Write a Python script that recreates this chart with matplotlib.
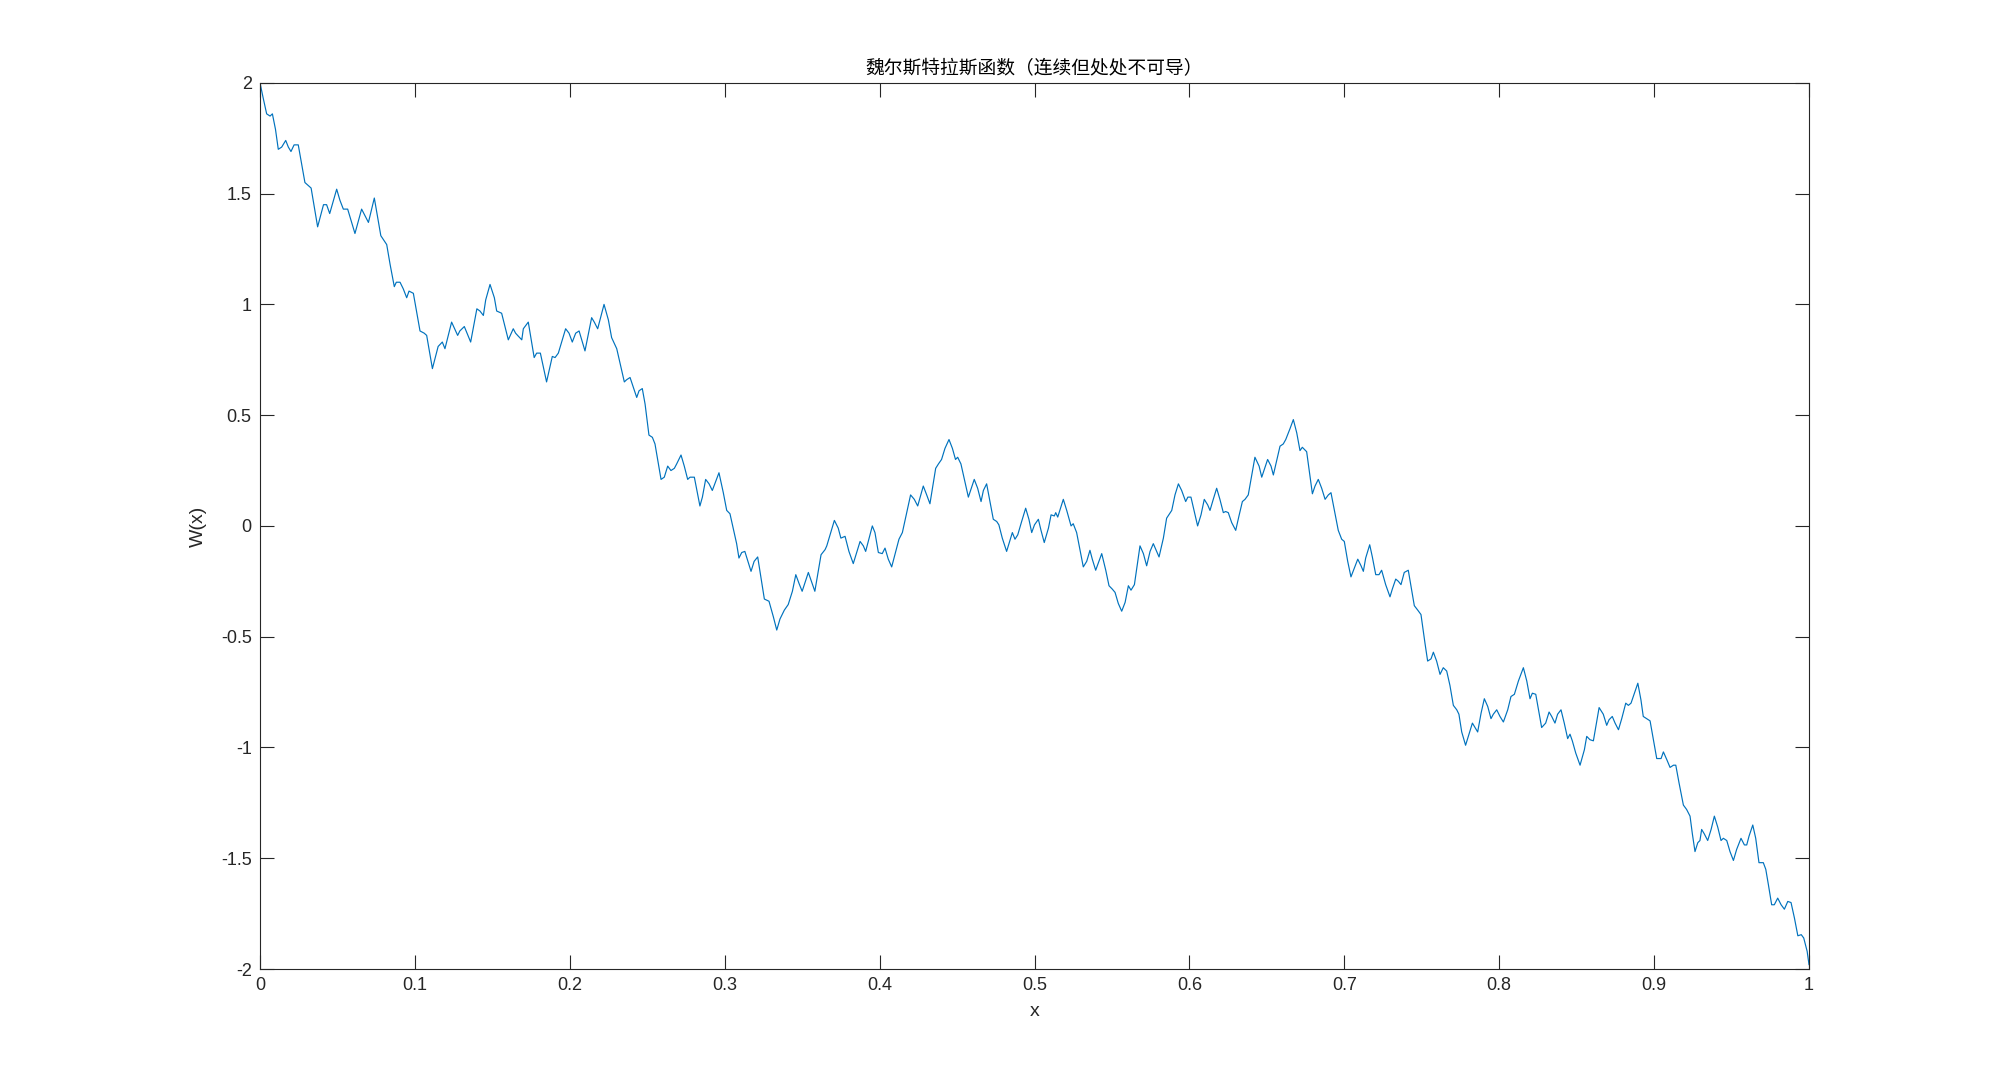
import matplotlib
matplotlib.use("Agg")
import matplotlib.pyplot as plt

# valores
x_vals = [
    0, 0.0021, 0.0043, 0.0065, 0.008, 0.010, 0.0118, 0.014, 0.0166, 0.0183,
    0.020, 0.022, 0.0247, 0.029, 0.033, 0.0372, 0.041, 0.043, 0.045, 0.0495,
    0.0516, 0.0538, 0.0566, 0.0613, 0.0656, 0.070, 0.0738, 0.078, 0.0818, 0.084,
    0.0867, 0.088, 0.0904, 0.0925, 0.0947, 0.0962, 0.099, 0.1033, 0.106, 0.1076,
    0.1113, 0.115, 0.1177, 0.1194, 0.1237, 0.1276, 0.129, 0.1319, 0.136, 0.140,
    0.142, 0.1442, 0.1457, 0.1485, 0.1513, 0.1528, 0.156, 0.1603, 0.1635, 0.165,
    0.1663, 0.169, 0.170, 0.1732, 0.177, 0.1786, 0.181, 0.185, 0.1887, 0.1905,
    0.1926, 0.1973, 0.1995, 0.2016, 0.2038, 0.206, 0.2098, 0.2141, 0.2158, 0.218,
    0.2221, 0.2249, 0.227, 0.2303, 0.2352, 0.2367, 0.2389, 0.2432, 0.2447, 0.2468,
    0.2486, 0.2511, 0.2533, 0.255, 0.2589, 0.261, 0.2632, 0.2653, 0.2675, 0.269,
    0.2718, 0.2739, 0.2761, 0.2776, 0.2804, 0.284, 0.2856, 0.2877, 0.2899, 0.292,
    0.2963, 0.2991, 0.3013, 0.3034, 0.3077, 0.3092, 0.311, 0.313, 0.317, 0.319,
    0.3213, 0.3256, 0.3286, 0.3314, 0.3336, 0.3357, 0.3385, 0.341, 0.3437, 0.3459,
    0.348, 0.350, 0.354, 0.356, 0.3582, 0.360, 0.3622, 0.3648, 0.3659, 0.368,
    0.3708, 0.3733, 0.375, 0.3777, 0.3802, 0.383, 0.3874, 0.3895, 0.391, 0.3953,
    0.397, 0.3992, 0.4017, 0.4035, 0.4056, 0.4078, 0.4104, 0.4125, 0.4147, 0.4175,
    0.420, 0.4224, 0.4246, 0.4282, 0.4304, 0.4325, 0.4362, 0.438, 0.440, 0.4422,
    0.4448, 0.447, 0.449, 0.4504, 0.4525, 0.4573, 0.4611, 0.4633, 0.4655, 0.467,
    0.4691, 0.4734, 0.4756, 0.477, 0.4792, 0.482, 0.4857, 0.4874, 0.4892, 0.4917,
    0.4943, 0.4964, 0.4982, 0.500, 0.5025, 0.5042, 0.5063, 0.509, 0.5107, 0.5128,
    0.5137, 0.515, 0.5186, 0.5208, 0.5236, 0.525, 0.5272, 0.5315, 0.5337, 0.5358,
    0.5373, 0.5395, 0.5434, 0.546, 0.5481, 0.5502, 0.552, 0.5541, 0.5563, 0.5585,
    0.5606, 0.5623, 0.5645, 0.5681, 0.5703, 0.5724, 0.5746, 0.5767, 0.5804, 0.5832,
    0.5853, 0.5886, 0.5907, 0.5929, 0.595, 0.5976, 0.599, 0.601, 0.6053, 0.6075,
    0.6096, 0.6118, 0.6133, 0.6154, 0.6176, 0.6197, 0.6219, 0.6234, 0.6251, 0.6273,
    0.6299, 0.632, 0.6342, 0.6359, 0.638, 0.6423, 0.645, 0.6467, 0.6505, 0.6527,
    0.6542, 0.6585, 0.6606, 0.6622, 0.665, 0.6671, 0.6693, 0.6714, 0.6729, 0.6757,
    0.6794, 0.6811, 0.6832, 0.6854, 0.6876, 0.6897, 0.6914, 0.6961, 0.6983, 0.7,
    0.7022, 0.7043, 0.7065, 0.7087, 0.7108, 0.7123, 0.7138, 0.7164, 0.7181, 0.7203,
    0.7224, 0.7241, 0.7267, 0.7295, 0.731, 0.7332, 0.7349, 0.7366, 0.7387, 0.7413,
    0.7452, 0.7474, 0.7495, 0.7521, 0.7538, 0.756, 0.7575, 0.7596, 0.7618, 0.7639,
    0.7661, 0.7682, 0.7704, 0.7726, 0.774, 0.7758, 0.7783, 0.7805, 0.7827, 0.7844,
    0.7861, 0.7883, 0.7904, 0.7926, 0.7947, 0.7962, 0.7984, 0.8005, 0.8027, 0.8055,
    0.8076, 0.8098, 0.8124, 0.8156, 0.8178, 0.8199, 0.8214, 0.8236, 0.8274, 0.83,
    0.8322, 0.8339, 0.836, 0.8377, 0.8399, 0.842, 0.8442, 0.8457, 0.8472, 0.8494,
    0.8522, 0.855, 0.8565, 0.8586, 0.8608, 0.8645, 0.8672, 0.8694, 0.8709, 0.873,
    0.8748, 0.877, 0.8791, 0.8817, 0.8834, 0.8851, 0.8895, 0.8915, 0.893, 0.8952,
    0.8974, 0.9017, 0.9045, 0.906, 0.9082, 0.9103, 0.9125, 0.914, 0.9161, 0.9189,
    0.921, 0.9232, 0.9247, 0.9264, 0.9282, 0.9296, 0.9307, 0.9324, 0.9346, 0.9368,
    0.9389, 0.9411, 0.9432, 0.9447, 0.9469, 0.949, 0.9512, 0.9533, 0.9561, 0.9583,
    0.9598, 0.9613, 0.9637, 0.9656, 0.9677, 0.9705, 0.9721, 0.9738, 0.9759, 0.9776,
    0.9798, 0.982, 0.9841, 0.9863, 0.9884, 0.9906, 0.9928, 0.995, 0.9966, 0.9988,
    1.0,
]
w_vals = [
    2.0, 1.93, 1.86, 1.85, 1.86, 1.79, 1.70, 1.71, 1.74, 1.71,
    1.69, 1.72, 1.72, 1.55, 1.525, 1.35, 1.45, 1.45, 1.41, 1.52,
    1.47, 1.43, 1.43, 1.32, 1.43, 1.37, 1.48, 1.31, 1.27, 1.18,
    1.08, 1.10, 1.10, 1.07, 1.03, 1.06, 1.05, 0.88, 0.87, 0.86,
    0.71, 0.81, 0.83, 0.80, 0.92, 0.86, 0.88, 0.90, 0.83, 0.98,
    0.97, 0.95, 1.02, 1.09, 1.03, 0.97, 0.96, 0.84, 0.89, 0.87,
    0.86, 0.84, 0.89, 0.92, 0.76, 0.78, 0.78, 0.65, 0.765, 0.76,
    0.78, 0.89, 0.87, 0.83, 0.87, 0.88, 0.79, 0.94, 0.92, 0.89,
    1.00, 0.93, 0.85, 0.80, 0.65, 0.66, 0.67, 0.58, 0.61, 0.62,
    0.55, 0.41, 0.40, 0.37, 0.21, 0.22, 0.27, 0.25, 0.26, 0.28,
    0.32, 0.27, 0.21, 0.22, 0.22, 0.09, 0.13, 0.21, 0.19, 0.16,
    0.24, 0.15, 0.07, 0.055, -0.08, -0.145, -0.12, -0.115, -0.205, -0.16,
    -0.14, -0.33, -0.34, -0.41, -0.47, -0.42, -0.38, -0.355, -0.295, -0.22,
    -0.26, -0.295, -0.21, -0.25, -0.295, -0.22, -0.13, -0.107, -0.09, -0.04,
    0.025, -0.01, -0.055, -0.047, -0.115, -0.17, -0.07, -0.09, -0.115, 0.0,
    -0.03, -0.12, -0.125, -0.10, -0.15, -0.185, -0.115, -0.06, -0.03, 0.06,
    0.14, 0.12, 0.09, 0.18, 0.14, 0.10, 0.26, 0.28, 0.30, 0.35,
    0.39, 0.35, 0.30, 0.31, 0.28, 0.13, 0.21, 0.17, 0.11, 0.16,
    0.19, 0.03, 0.02, 0.005, -0.055, -0.115, -0.03, -0.06, -0.04, 0.02,
    0.08, 0.03, -0.03, 0.005, 0.03, -0.02, -0.075, -0.01, 0.05, 0.045,
    0.06, 0.04, 0.12, 0.07, 0.0, 0.01, -0.03, -0.185, -0.16, -0.11,
    -0.15, -0.20, -0.125, -0.20, -0.27, -0.285, -0.30, -0.35, -0.385, -0.345,
    -0.27, -0.29, -0.265, -0.09, -0.125, -0.18, -0.115, -0.08, -0.14, -0.055,
    0.035, 0.07, 0.14, 0.19, 0.16, 0.11, 0.13, 0.13, 0.0, 0.05,
    0.12, 0.095, 0.07, 0.12, 0.17, 0.12, 0.06, 0.065, 0.06, 0.015,
    -0.02, 0.045, 0.11, 0.12, 0.14, 0.31, 0.27, 0.22, 0.30, 0.27,
    0.23, 0.36, 0.37, 0.39, 0.44, 0.48, 0.42, 0.34, 0.355, 0.335,
    0.145, 0.18, 0.21, 0.17, 0.12, 0.14, 0.15, -0.02, -0.06, -0.07,
    -0.16, -0.23, -0.19, -0.15, -0.18, -0.205, -0.145, -0.085, -0.14, -0.22,
    -0.22, -0.20, -0.265, -0.32, -0.285, -0.24, -0.25, -0.265, -0.21, -0.20,
    -0.36, -0.38, -0.40, -0.53, -0.61, -0.60, -0.57, -0.61, -0.67, -0.64,
    -0.655, -0.72, -0.81, -0.83, -0.85, -0.93, -0.99, -0.94, -0.89, -0.91,
    -0.93, -0.845, -0.78, -0.815, -0.87, -0.85, -0.83, -0.86, -0.885, -0.83,
    -0.77, -0.76, -0.70, -0.64, -0.70, -0.78, -0.755, -0.76, -0.91, -0.89,
    -0.84, -0.86, -0.89, -0.85, -0.83, -0.89, -0.96, -0.94, -0.97, -1.025,
    -1.08, -1.01, -0.95, -0.965, -0.97, -0.82, -0.85, -0.90, -0.875, -0.86,
    -0.89, -0.92, -0.87, -0.80, -0.81, -0.80, -0.71, -0.785, -0.86, -0.87,
    -0.88, -1.05, -1.05, -1.02, -1.055, -1.09, -1.08, -1.08, -1.16, -1.26,
    -1.28, -1.31, -1.39, -1.47, -1.43, -1.42, -1.37, -1.39, -1.42, -1.37,
    -1.31, -1.36, -1.42, -1.41, -1.42, -1.47, -1.51, -1.46, -1.41, -1.44,
    -1.44, -1.40, -1.35, -1.41, -1.52, -1.52, -1.55, -1.62, -1.71, -1.71,
    -1.68, -1.71, -1.73, -1.695, -1.70, -1.77, -1.85, -1.845, -1.86, -1.92,
    -1.98,
]

x_ticks = [0, 0.1, 0.2, 0.3, 0.4, 0.5, 0.6, 0.7, 0.8, 0.9, 1]
x_tick_labels = ['0', '0.1', '0.2', '0.3', '0.4', '0.5', '0.6', '0.7', '0.8', '0.9', '1']
y_ticks = [-2, -1.5, -1, -0.5, 0, 0.5, 1, 1.5, 2]
y_tick_labels = ['-2', '-1.5', '-1', '-0.5', '0', '0.5', '1', '1.5', '2']

titulo = '魏尔斯特拉斯函数（连续但处处不可导）'

plt.rcParams['font.family'] = ['Liberation Sans', 'DejaVu Sans']
plt.rcParams['axes.unicode_minus'] = False

gris = '#262626'
fig = plt.figure(figsize=(20, 10.9), dpi=100)
ax = fig.add_axes([0.13, 0.111, 0.7745, 0.813])

ax.plot(x_vals, w_vals, color='#0072BD', linewidth=0.85)

ax.set_xlim(0, 1)
ax.set_ylim(-2, 2)
ax.set_xticks(x_ticks)
ax.set_xticklabels(x_tick_labels)
ax.set_yticks(y_ticks)
ax.set_yticklabels(y_tick_labels)

ax.tick_params(direction='in', length=10, width=0.8, top=True, right=True,
               labelsize=13, colors=gris, pad=6)
for lado in ax.spines.values():
    lado.set_color(gris)
    lado.set_linewidth(0.8)

ax.set_xlabel('x', fontsize=14, color=gris, labelpad=6)
ax.set_ylabel('W(x)', fontsize=14, color=gris, labelpad=10)
ax.set_title(titulo, fontsize=13.5, color='black', pad=6,
             family=['Noto Sans CJK SC', 'DejaVu Sans'])

fig.savefig('out.png', dpi=100, facecolor='white')
